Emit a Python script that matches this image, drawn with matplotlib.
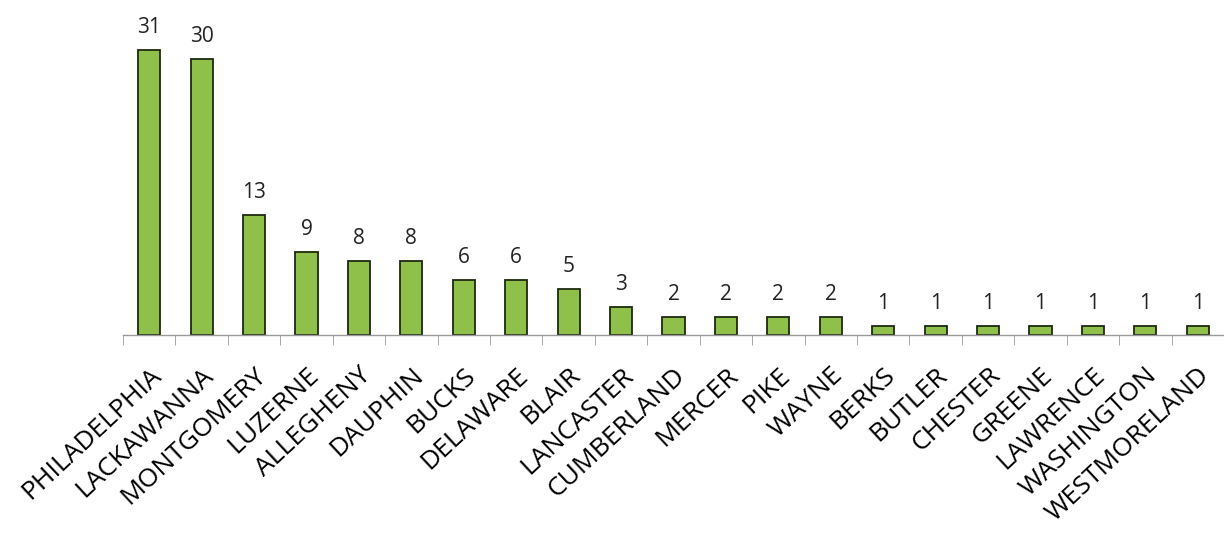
import numpy as np
import matplotlib
matplotlib.use("Agg")
import matplotlib.pyplot as plt

counties = ["PHILADELPHIA", "LACKAWANNA", "MONTGOMERY", "LUZERNE", "ALLEGHENY",
            "DAUPHIN", "BUCKS", "DELAWARE", "BLAIR", "LANCASTER", "CUMBERLAND",
            "MERCER", "PIKE", "WAYNE", "BERKS", "BUTLER", "CHESTER", "GREENE",
            "LAWRENCE", "WASHINGTON", "WESTMORELAND"]
counts = [31, 30, 13, 9, 8, 8, 6, 6, 5, 3, 2, 2, 2, 2, 1, 1, 1, 1, 1, 1, 1]

plt.rcParams['font.family'] = ['Open Sans', 'DejaVu Sans']

fig = plt.figure(figsize=(12.24, 5.34), dpi=100)
ax = fig.add_axes([123 / 1224, 199 / 534, 1 - 123 / 1224, 1 - 199 / 534])

x = np.arange(len(counties))
bars = ax.bar(x, counts, width=0.42, color="#8fc04a", edgecolor="#1e2a10", linewidth=1.3)

for xi, v in zip(x, counts):
    ax.text(xi, v + 1.3, str(v), ha="center", va="bottom", fontsize=15, color="#222222")

ax.set_xlim(-0.5, len(counties) - 0.5)
ax.set_ylim(0, 36.4)

for s in ["top", "right", "left"]:
    ax.spines[s].set_visible(False)
ax.spines["bottom"].set_color("#999999")
ax.spines["bottom"].set_linewidth(1.0)
ax.set_yticks([])

ax.set_xticks(np.arange(-0.5, len(counties), 1.0), minor=True)
ax.tick_params(axis="x", which="minor", length=7, color="#999999", direction="out")
ax.set_xticks(x)
ax.set_xticklabels(counties, rotation=43, ha="right", rotation_mode="anchor", fontsize=19)
ax.tick_params(axis="x", which="major", length=0, pad=20)

fig.savefig("out.png", dpi=100)
